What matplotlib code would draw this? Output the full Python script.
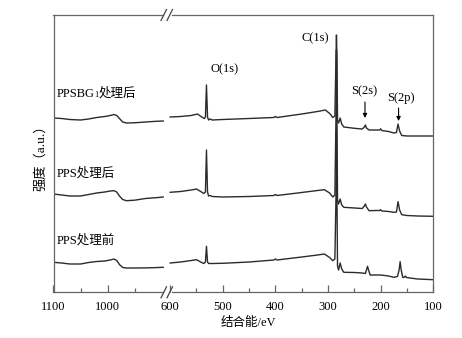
import matplotlib
matplotlib.use("Agg")
import matplotlib.pyplot as plt
from matplotlib.lines import Line2D

plt.rcParams['font.family'] = ['Liberation Serif', 'Noto Sans CJK SC']
plt.rcParams['axes.unicode_minus'] = False

# ---- XPS survey spectra (binding energy in eV, offset intensity in a.u.) ----
# high-energy segment (1100 - 897 eV)
hi_ev = [1100, 1085, 1070, 1050, 1035, 1020, 1005, 995, 988, 983, 978, 972, 965, 950, 930, 910, 897]
hi_treated_bg = [174, 173.5, 172.5, 172, 173, 174.5, 175.5, 176.5, 177.5, 176.5, 173.5, 170, 169, 169.2, 170, 170.7, 171]
hi_treated = [98, 97, 96, 96, 97.5, 99, 100, 101, 101.3, 100, 96, 92.5, 91.3, 91.8, 93.5, 94.3, 95]
hi_untreated = [29.7, 29, 28, 28, 29.5, 30.5, 31, 32, 33, 31.5, 27.5, 24.5, 24, 24, 24.1, 24.4, 24.7]

# low-energy segment (600 - 100 eV)
lo_ev_treated_bg = [600, 580, 560, 548, 540, 535, 533, 531, 529, 527, 524, 520, 500, 450, 403, 400, 397,
                    350, 320, 305, 296, 291, 287, 285, 284, 283, 282, 280, 277, 274, 270, 250, 235,
                    231, 229, 227, 222, 210, 202, 200, 198, 185, 175, 170, 167, 164, 160, 150, 130, 100]
lo_treated_bg = [175, 175.5, 176.5, 178, 175, 173.5, 175, 207, 175, 172, 173, 172, 172.5, 173.5, 174.5, 175.5, 174.5,
                 178, 180.5, 182, 178, 174.5, 176, 232, 257, 232, 172, 169, 174, 168, 165, 163.7, 163,
                 165, 167, 164, 162, 162, 162, 163.2, 161.5, 160.5, 159, 159.5, 168, 161, 156.5, 156, 156, 156]

lo_ev_treated = [600, 580, 560, 550, 542, 536, 533, 531, 529, 527, 524, 520, 500, 450, 403, 400, 397,
                 350, 320, 307, 297, 291, 287, 285, 284, 283, 282, 280, 277, 274, 270, 250, 235,
                 231, 229, 227, 222, 210, 202, 200, 198, 185, 175, 170, 167, 164, 160, 150, 130, 100]
lo_treated = [99.7, 100.5, 102, 103, 100.5, 98.5, 100, 142, 100, 96, 96.5, 95.5, 95, 95.5, 96.5, 97.5, 96.5,
              99.5, 101.5, 102.3, 99, 95, 97, 172, 242, 172, 92, 88, 93, 87, 84.7, 84, 83.5,
              86, 88, 85, 81.3, 81.5, 81.5, 82.3, 81, 80.5, 79.7, 80, 90.3, 82, 77.3, 76.5, 76, 75.7]

lo_ev_untreated = [600, 580, 560, 550, 542, 536, 533, 531, 529, 527, 520, 500, 450, 403, 400, 397,
                   350, 320, 307, 297, 291, 287, 285, 284, 283, 282, 280, 277, 274, 270, 250, 235,
                   229, 227, 225, 223, 220, 200, 185, 175, 168, 165, 163, 161, 158, 155, 153, 151, 130, 100]
lo_untreated = [29, 30, 31.5, 32.3, 30, 28.5, 30, 45.7, 30, 28.5, 28.5, 28.7, 30, 32, 33, 32,
                35, 37, 38, 34.5, 31.3, 33, 92, 162, 92, 26, 22, 29, 23, 19.7, 19.5, 19,
                18.5, 22, 25.7, 22, 17, 17, 16, 14.7, 15.5, 22, 30.3, 22, 14.5, 14.7, 16, 14.5, 13, 12.3]

sample_labels = ["处理后", "PPS处理后", "PPS处理前"]
peak_labels = ["O(1s)", "C(1s)", "S(2s)", "S(2p)"]
left_ticks = [1100, 1000]
left_minor = [1050, 950]
right_ticks = [600, 500, 400, 300, 200, 100]
right_minor = [550, 450, 350, 250, 150]

W, H = 462, 338
fig = plt.figure(figsize=(W / 100, H / 100), dpi=100)

x_left, x_right = 53.5, 433.3
y_top, y_bot = 15.0, 292.3
x_break = 167.0
L, R = x_left / W, x_right / W
B, T = 1 - y_bot / H, 1 - y_top / H
XB = x_break / W

axL = fig.add_axes([L, B, XB - L, T - B])
axR = fig.add_axes([XB, B, R - XB, T - B])

line_kw = dict(color='#2b2b2b', lw=1.0, solid_joinstyle='round')
spine_col = '#666666'

for ax, xl in ((axL, (1100, 890)), (axR, (606, 100))):
    ax.set_xlim(*xl)
    ax.set_ylim(-0.3, 277)
    ax.set_yticks([])
    ax.patch.set_alpha(0)
    for s in ax.spines.values():
        s.set_color(spine_col)
        s.set_linewidth(0.9)
    ax.tick_params(axis='x', which='both', direction='in', top=False, bottom=True,
                   colors=spine_col, labelcolor='black', labelsize=9, pad=6)
    ax.tick_params(axis='x', which='major', length=5, width=0.9)
    ax.tick_params(axis='x', which='minor', length=2.7, width=0.9)

axL.spines['right'].set_visible(False)
axR.spines['left'].set_visible(False)
axL.spines['top'].set_bounds(1100, 897)
axL.spines['bottom'].set_bounds(1100, 897)
axR.spines['top'].set_bounds(597, 100)
axR.spines['bottom'].set_bounds(597, 100)

axL.set_xticks(left_ticks)
axL.set_xticks(left_minor, minor=True)
axR.set_xticks(right_ticks)
axR.set_xticks(right_minor, minor=True)

# spectra
axL.plot(hi_ev, hi_treated_bg, **line_kw)
axL.plot(hi_ev, hi_treated, **line_kw)
axL.plot(hi_ev, hi_untreated, **line_kw)
axR.plot(lo_ev_untreated, lo_untreated, **line_kw)
axR.plot(lo_ev_treated, lo_treated, **line_kw)
axR.plot(lo_ev_treated_bg, lo_treated_bg, **line_kw)

# axis break marks
def slash(x0, yc):
    for dx in (0, 6):
        fig.add_artist(Line2D([(x0 + dx) / W, (x0 + dx + 5.5) / W],
                              [1 - (yc + 5.5) / H, 1 - (yc - 5.5) / H],
                              color='#444444', lw=0.9))
slash(161, y_top)
slash(161, y_bot)

# sample labels
fs = 9
t1 = axL.text(1093.5, 198, "PPSBG", fontsize=fs, va='center', ha='left')
t_sub = axL.annotate("1", xy=(1, 0), xycoords=t1, xytext=(-0.6, 0.6),
                     textcoords='offset points', fontsize=6, va='bottom', ha='left')
axL.annotate(sample_labels[0], xy=(1, 0), xycoords=(t_sub, t1), xytext=(0.0, 0),
             textcoords='offset points', fontsize=fs, va='bottom', ha='left')
axL.text(1093.5, 119, sample_labels[1], fontsize=fs, va='center', ha='left')
axL.text(1093.5, 52, sample_labels[2], fontsize=fs, va='center', ha='left')

# peak labels
axR.text(495.8, 223, peak_labels[0], fontsize=fs, ha='center', va='center')
axR.text(325, 254, peak_labels[1], fontsize=fs, ha='center', va='center')
axR.text(231.7, 201, peak_labels[2], fontsize=fs, ha='center', va='center')
axR.text(161.4, 194, peak_labels[3], fontsize=fs, ha='center', va='center')
arrow_kw = dict(arrowstyle='-|>', lw=0.8, color='black', mutation_scale=6, shrinkA=0, shrinkB=0)
axR.annotate("", xy=(229.8, 174), xytext=(229.8, 190), arrowprops=arrow_kw)
axR.annotate("", xy=(166, 171), xytext=(166, 184), arrowprops=arrow_kw)

# axis titles
fig.text(248 / W, 1 - 323 / H, "结合能/eV", fontsize=fs, ha='center', va='center')
fig.text(41 / W, 1 - 155 / H, "强度（a.u.）", fontsize=9.5, ha='center', va='center', rotation=90)

fig.savefig("out.png", dpi=100)
